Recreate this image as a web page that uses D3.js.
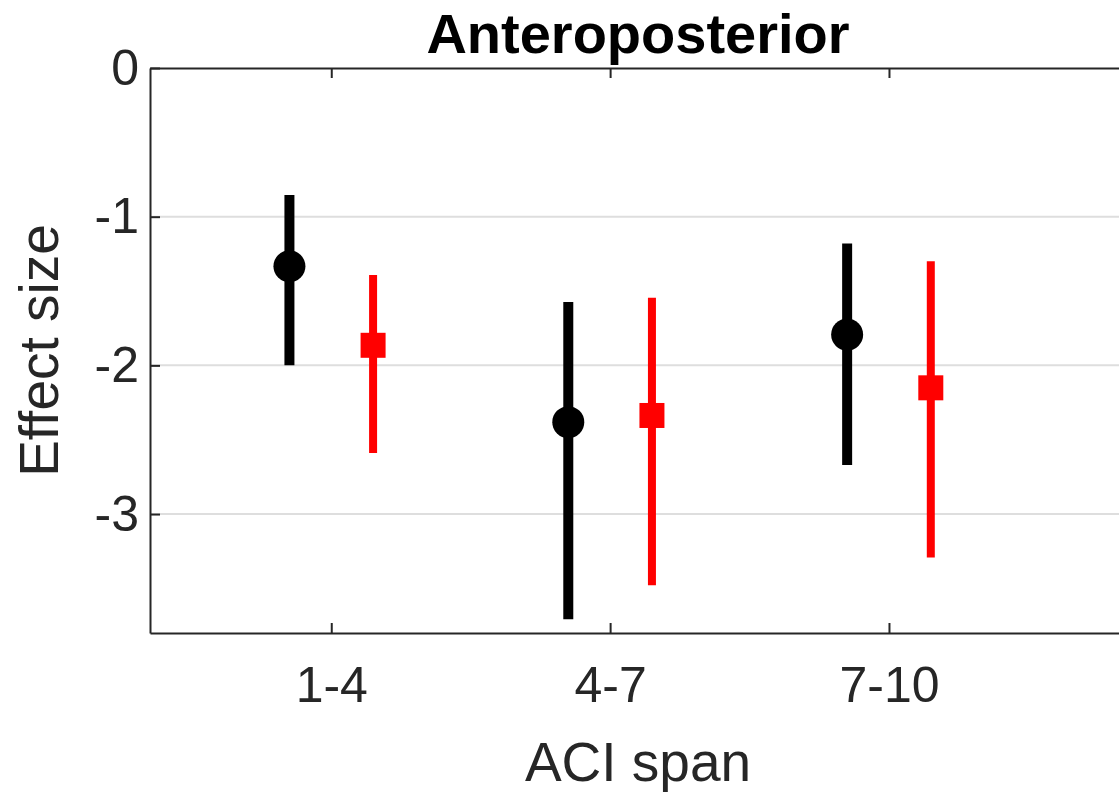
<!DOCTYPE html>
<html>
<head>
<meta charset="utf-8">
<script src="https://cdn.jsdelivr.net/npm/d3@7"></script>
<style>
    html, body { margin: 0; padding: 0; background: #ffffff; overflow: hidden; }
    svg { display: block; }
</style>
</head>
<body>
<div id="chart"></div>
<script>
(function () {
    "use strict";

    const categories = ["1-4", "4-7", "7-10"];
    const yTicks = [0, -1, -2, -3];

    // black circles
    const blackMean = [-1.333, -2.382, -1.793];
    const blackLow = [-2.0, -3.708, -2.67];
    const blackHigh = [-0.854, -1.573, -1.18];

    // red squares
    const redMean = [-1.865, -2.337, -2.151];
    const redLow = [-2.589, -3.479, -3.293];
    const redHigh = [-1.393, -1.546, -1.299];

    const d3 = window.d3;
    const width = 1119;
    const height = 792;
    const font = "'Liberation Sans', Arial, Helvetica, sans-serif";
    const axisColor = "#262626";

    const svg = d3.select("#chart")
        .append("svg")
        .attr("width", width)
        .attr("height", height)
        .style("font-family", font);

    const left = 150;
    const right = 1126;
    const top = 68;
    const bottom = 633;

    const x = d3.scaleLinear().domain([0.35, 3.85]).range([left, right]);
    const y = d3.scaleLinear().domain([-3.8, 0]).range([bottom, top]);

    // grid lines
    svg.append("g")
        .selectAll("line")
        .data(yTicks.filter((v) => v !== 0))
        .join("line")
        .attr("x1", left)
        .attr("x2", right)
        .attr("y1", (d) => y(d))
        .attr("y2", (d) => y(d))
        .attr("stroke", "#dedede")
        .attr("stroke-width", 2);

    // axes (box with inward ticks, MATLAB style)
    const yAxis = d3.axisLeft(y)
        .tickValues(yTicks)
        .tickFormat((d) => d === 0 ? "0" : "-" + Math.abs(d))
        .tickSizeInner(-10)
        .tickSizeOuter(0)
        .tickPadding(11);

    svg.append("g")
        .attr("transform", `translate(${left},0)`)
        .call(yAxis)
        .call((g) => g.select(".domain").attr("stroke", axisColor).attr("stroke-width", 2))
        .call((g) => g.selectAll(".tick line").attr("stroke", axisColor).attr("stroke-width", 2))
        .call((g) => g.selectAll(".tick text")
            .attr("fill", "#262626")
            .style("font-size", "50px")
            .style("font-family", font));

    const xAxis = d3.axisBottom(x)
        .tickValues([1, 2, 3])
        .tickFormat((d, i) => categories[i])
        .tickSizeInner(-10)
        .tickSizeOuter(0)
        .tickPadding(33);

    svg.append("g")
        .attr("transform", `translate(0,${bottom})`)
        .call(xAxis)
        .call((g) => g.select(".domain").attr("stroke", axisColor).attr("stroke-width", 2))
        .call((g) => g.selectAll(".tick line").attr("stroke", axisColor).attr("stroke-width", 2))
        .call((g) => g.selectAll(".tick text")
            .attr("fill", "#262626")
            .style("font-size", "50px")
            .style("font-family", font));

    const xTop = d3.axisTop(x)
        .tickValues([1, 2, 3])
        .tickFormat("")
        .tickSizeInner(-10)
        .tickSizeOuter(0);

    svg.append("g")
        .attr("transform", `translate(0,${top})`)
        .call(xTop)
        .call((g) => g.select(".domain").attr("stroke", axisColor).attr("stroke-width", 2))
        .call((g) => g.selectAll(".tick line").attr("stroke", axisColor).attr("stroke-width", 2));

    // error bars + markers
    const offset = 0.15;
    const blackRows = categories.map((c, i) => ({ pos: i + 1 - offset, mean: blackMean[i], lo: blackLow[i], hi: blackHigh[i] }));
    const redRows = categories.map((c, i) => ({ pos: i + 1 + offset, mean: redMean[i], lo: redLow[i], hi: redHigh[i] }));

    svg.append("g")
        .selectAll("line")
        .data(blackRows)
        .join("line")
        .attr("x1", (d) => x(d.pos))
        .attr("x2", (d) => x(d.pos))
        .attr("y1", (d) => y(d.lo))
        .attr("y2", (d) => y(d.hi))
        .attr("stroke", "#000000")
        .attr("stroke-width", 10);

    svg.append("g")
        .selectAll("circle")
        .data(blackRows)
        .join("circle")
        .attr("cx", (d) => x(d.pos))
        .attr("cy", (d) => y(d.mean))
        .attr("r", 16)
        .attr("fill", "#000000");

    svg.append("g")
        .selectAll("line")
        .data(redRows)
        .join("line")
        .attr("x1", (d) => x(d.pos))
        .attr("x2", (d) => x(d.pos))
        .attr("y1", (d) => y(d.lo))
        .attr("y2", (d) => y(d.hi))
        .attr("stroke", "#ff0000")
        .attr("stroke-width", 8);

    const sq = 25;
    svg.append("g")
        .selectAll("rect")
        .data(redRows)
        .join("rect")
        .attr("x", (d) => x(d.pos) - sq / 2)
        .attr("y", (d) => y(d.mean) - sq / 2)
        .attr("width", sq)
        .attr("height", sq)
        .attr("fill", "#ff0000");

    // labels
    svg.append("text")
        .attr("x", (left + right) / 2)
        .attr("y", 53)
        .attr("text-anchor", "middle")
        .attr("fill", "#000000")
        .style("font-size", "56px")
        .style("font-weight", "bold")
        .text("Anteroposterior");

    svg.append("text")
        .attr("x", (left + right) / 2)
        .attr("y", 781)
        .attr("text-anchor", "middle")
        .attr("fill", "#262626")
        .style("font-size", "55px")
        .text("ACI span");

    svg.append("text")
        .attr("transform", `translate(58,${(top + bottom) / 2}) rotate(-90)`)
        .attr("text-anchor", "middle")
        .attr("fill", "#262626")
        .style("font-size", "55px")
        .text("Effect size");
})();
</script>
</body>
</html>
